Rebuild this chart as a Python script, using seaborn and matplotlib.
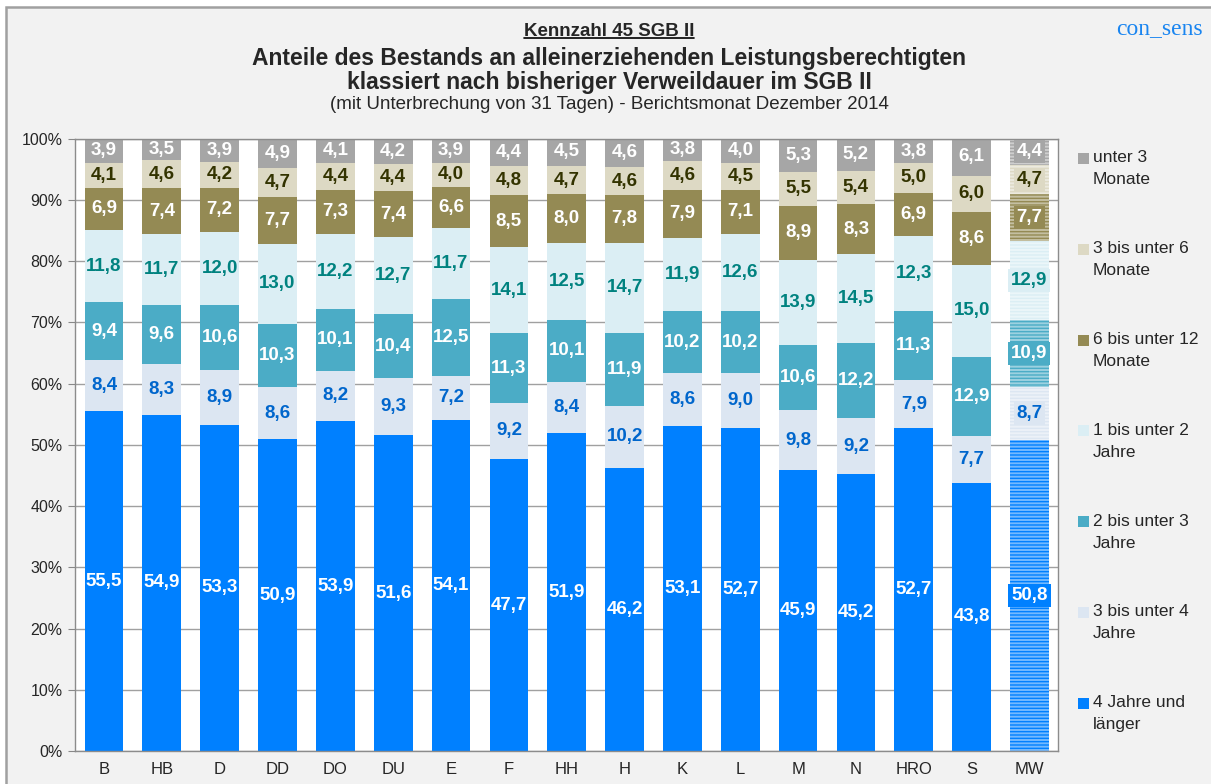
import numpy as np
import pandas as pd
import matplotlib
matplotlib.use('Agg')
import matplotlib.pyplot as plt
import seaborn as sns
from matplotlib.patches import Rectangle
from matplotlib.lines import Line2D
from matplotlib.colors import to_rgb

# ── data (bottom segment first) ────────────────────────────────────────────
cities = ['B', 'HB', 'D', 'DD', 'DO', 'DU', 'E', 'F', 'HH', 'H', 'K', 'L',
          'M', 'N', 'HRO', 'S', 'MW']

series_names = ['4 Jahre und\nlänger', '3 bis unter 4\nJahre', '2 bis unter 3\nJahre',
                '1 bis unter 2\nJahre', '6 bis unter 12\nMonate', '3 bis unter 6\nMonate',
                'unter 3\nMonate']

j4_plus = [55.5, 54.9, 53.3, 50.9, 53.9, 51.6, 54.1, 47.7, 51.9, 46.2, 53.1, 52.7, 45.9, 45.2, 52.7, 43.8, 50.8]
j3_4 = [8.4, 8.3, 8.9, 8.6, 8.2, 9.3, 7.2, 9.2, 8.4, 10.2, 8.6, 9.0, 9.8, 9.2, 7.9, 7.7, 8.7]
j2_3 = [9.4, 9.6, 10.6, 10.3, 10.1, 10.4, 12.5, 11.3, 10.1, 11.9, 10.2, 10.2, 10.6, 12.2, 11.3, 12.9, 10.9]
j1_2 = [11.8, 11.7, 12.0, 13.0, 12.2, 12.7, 11.7, 14.1, 12.5, 14.7, 11.9, 12.6, 13.9, 14.5, 12.3, 15.0, 12.9]
m6_12 = [6.9, 7.4, 7.2, 7.7, 7.3, 7.4, 6.6, 8.5, 8.0, 7.8, 7.9, 7.1, 8.9, 8.3, 6.9, 8.6, 7.7]
m3_6 = [4.1, 4.6, 4.2, 4.7, 4.4, 4.4, 4.0, 4.8, 4.7, 4.6, 4.6, 4.5, 5.5, 5.4, 5.0, 6.0, 4.7]
m0_3 = [3.9, 3.5, 3.9, 4.9, 4.1, 4.2, 3.9, 4.4, 4.5, 4.6, 3.8, 4.0, 5.3, 5.2, 3.8, 6.1, 4.4]

series = [j4_plus, j3_4, j2_3, j1_2, m6_12, m3_6, m0_3]

colors = ['#0080ff', '#dce6f2', '#4bacc6', '#dbeef4', '#948a54', '#ddd9c4', '#a6a6a6']
label_colors = ['white', '#0066cc', 'white', '#00827f', 'white', '#333300', 'white']

df = pd.DataFrame(np.array(series).T, index=cities, columns=series_names)
cum = df.cumsum(axis=1)

# ── figure ─────────────────────────────────────────────────────────────────
sns.set_style('white')
plt.rcParams['font.family'] = ['Liberation Sans', 'DejaVu Sans']

W, H = 1211, 784
fig = plt.figure(figsize=(W / 100, H / 100), dpi=100)
fig.patch.set_facecolor('white')

# grey chart area with border on left/top
fig.add_artist(Rectangle((6 / W, -0.02), 1.05, 1.02 - 7 / H, transform=fig.transFigure,
                         facecolor='#f2f2f2', edgecolor='#a0a0a0', linewidth=1.8, zorder=-5))

ax = fig.add_axes([0.062, 0.042, 0.812, 0.781])
ax.set_facecolor('white')

bar_w = 0.67
mw_idx = cities.index('MW')

# draw cumulative layers from top to bottom so lower segments overlay
for k in range(len(series_names) - 1, -1, -1):
    n_before = len(ax.patches)
    sns.barplot(x=cities, y=cum.iloc[:, k].values, color=colors[k], saturation=1,
                width=bar_w, ax=ax, zorder=2, linewidth=0, order=cities)
    p = ax.patches[n_before + mw_idx]
    base = np.array(to_rgb(colors[k]))
    p.set_facecolor(tuple(base + (1 - base) * 0.45))
    p.set_hatch('-----')
    p.set_edgecolor(colors[k])
    p.set_linewidth(0)

# value labels
for k, name in enumerate(series_names):
    vals = df[name].values
    bottoms = cum.iloc[:, k].values - vals
    for i, v in enumerate(vals):
        txt = f'{v:.1f}'.replace('.', ',')
        kw = {}
        if i == mw_idx:
            kw['bbox'] = dict(boxstyle='square,pad=0.15', facecolor=colors[k], edgecolor='none')
        ax.text(i, bottoms[i] + v / 2, txt, ha='center', va='center', fontsize=13.5,
                fontweight='bold', color=label_colors[k], zorder=4, **kw)

# axes styling
ax.set_ylim(0, 100)
ax.set_xlim(-0.5, len(cities) - 0.5)
ax.set_yticks(np.arange(0, 101, 10))
ax.set_yticklabels([f'{t}%' for t in range(0, 101, 10)], fontsize=11.5)
ax.set_xticks(range(len(cities)))
ax.set_xticklabels(cities, fontsize=12)
ax.set_xticks(np.arange(-0.5, len(cities), 1), minor=True)
ax.tick_params(axis='x', which='major', length=0, pad=8)
ax.tick_params(axis='x', which='minor', length=5, color='#888888')
ax.tick_params(axis='y', length=5, color='#888888', direction='out', left=True, pad=4)
ax.set_xlabel('')
ax.set_ylabel('')
ax.yaxis.grid(True, color='#a0a0a0', linewidth=1)
ax.set_axisbelow(True)
for s in ax.spines.values():
    s.set_visible(True)
    s.set_edgecolor('#8c8c8c')
    s.set_linewidth(1)

# legend, drawn by hand so the square sits on the first text line
leg_y0 = 158      # px from top, first line of first entry
leg_step = 90.8
for j, k in enumerate(range(len(series_names) - 1, -1, -1)):
    y = leg_y0 + j * leg_step
    fig.add_artist(Rectangle((1078 / W, 1 - (y + 6) / H), 11 / W, 11 / H,
                             transform=fig.transFigure, facecolor=colors[k],
                             edgecolor='none'))
    line1, line2 = series_names[k].split('\n')
    fig.text(1093 / W, 1 - y / H, line1, ha='left', va='center', fontsize=12.5)
    fig.text(1093 / W, 1 - (y + 22) / H, line2, ha='left', va='center', fontsize=12.5)

# titles
t1 = fig.text(0.503, 0.960, 'Kennzahl 45 SGB II', ha='center', va='center',
              fontsize=13.5, fontweight='bold')
fig.text(0.503, 0.926, 'Anteile des Bestands an alleinerziehenden Leistungsberechtigten',
         ha='center', va='center', fontsize=16.5, fontweight='bold')
fig.text(0.503, 0.895, 'klassiert nach bisheriger Verweildauer im SGB II',
         ha='center', va='center', fontsize=16.5, fontweight='bold')
fig.text(0.503, 0.867, '(mit Unterbrechung von 31 Tagen) - Berichtsmonat Dezember 2014',
         ha='center', va='center', fontsize=13.5)
fig.text(0.993, 0.964, 'con_sens', ha='right', va='center', fontsize=17,
         family=['Liberation Serif', 'DejaVu Serif'], color='#1a85f0')

# underline for first title line
fig.canvas.draw()
bb = t1.get_window_extent().transformed(fig.transFigure.inverted())
fig.add_artist(Line2D([bb.x0, bb.x1], [bb.y0 + 0.002, bb.y0 + 0.002],
                      transform=fig.transFigure, color='black', linewidth=1.2))

fig.savefig('out.png', dpi=100, facecolor=fig.get_facecolor())
plt.close(fig)
